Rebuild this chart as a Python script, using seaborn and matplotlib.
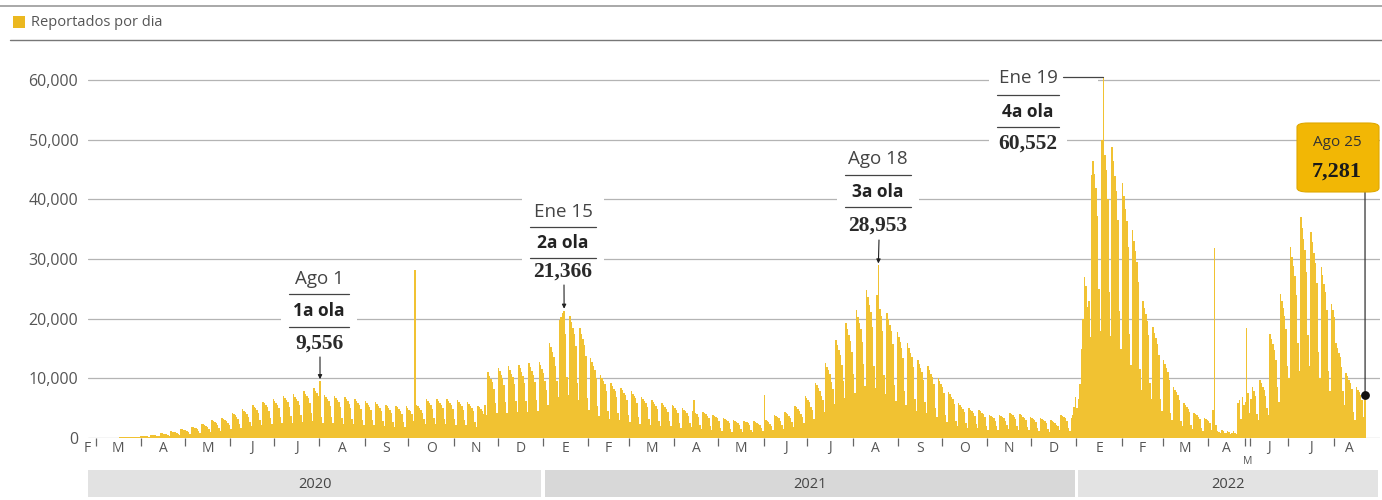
import matplotlib
matplotlib.use('Agg')
import matplotlib.pyplot as plt
import matplotlib.transforms as mtransforms
from matplotlib.patches import Rectangle, FancyBboxPatch
from matplotlib.lines import Line2D
import seaborn as sns
import pandas as pd

# Casos reportados por dia, en miles
feb20 = [0.0, 0.0, 0.01]
mar20 = [0.0, 0.0, 0.0, 0.0, 0.0, 0.0, 0.0, 0.0, 0.0, 0.0, 0.0, 0.0, 0.0, 0.0,
         0.0, 0.0, 0.1, 0.1, 0.1, 0.1, 0.1, 0.1, 0.1, 0.2, 0.2, 0.2, 0.2, 0.2,
         0.2, 0.1, 0.4]
apr20 = [0.33, 0.32, 0.3, 0.26, 0.28, 0.19, 0.55, 0.52, 0.5, 0.47, 0.41, 0.4, 0.28, 0.8,
         0.76, 0.72, 0.68, 0.6, 0.55, 0.39, 1.1, 1.05, 0.99, 0.94, 0.83, 0.75, 0.53, 1.5,
         1.43, 1.35]
may20 = [1.28, 1.13, 0.95, 0.67, 1.9, 1.8, 1.71, 1.62, 1.43, 1.2, 0.84, 2.4, 2.28, 2.16,
         2.04, 1.8, 1.5, 1.05, 3.0, 2.85, 2.7, 2.55, 2.25, 1.7, 1.19, 3.4, 3.23, 3.06,
         2.89, 2.55, 2.1]
jun20 = [1.47, 4.2, 3.99, 3.78, 3.57, 3.15, 2.4, 1.68, 4.8, 4.56, 4.32, 4.08, 3.6, 2.75,
         1.93, 5.5, 5.23, 4.95, 4.68, 4.13, 3.05, 2.14, 6.1, 5.8, 5.49, 5.19, 4.58, 3.3,
         2.31, 6.6]
jul20 = [6.27, 5.94, 5.61, 4.95, 3.5, 2.45, 7.0, 6.65, 6.3, 5.95, 5.25, 3.65, 2.56, 7.3,
         6.94, 6.57, 6.21, 5.48, 3.9, 2.73, 7.8, 7.41, 7.02, 6.63, 5.85, 4.15, 2.9, 8.3,
         7.89, 7.47, 7.06]
aug20 = [9.556, 3.6, 2.52, 7.2, 6.84, 6.48, 6.12, 5.4, 3.5, 2.45, 7.0, 6.65, 6.3, 5.95,
         5.25, 3.4, 2.38, 6.8, 6.46, 6.12, 5.78, 5.1, 3.25, 2.28, 6.5, 6.18, 5.85, 5.53,
         4.88, 3.1, 2.17]
sep20 = [6.2, 5.89, 5.58, 5.27, 4.65, 3.0, 2.1, 6.0, 5.7, 5.4, 5.1, 4.5, 2.8, 1.96,
         5.6, 5.32, 5.04, 4.76, 4.2, 2.7, 1.89, 5.4, 5.13, 4.86, 4.59, 4.05, 2.65, 1.86,
         5.3, 5.04]
oct20 = [4.77, 4.51, 3.98, 2.8, 28.1, 5.6, 5.32, 5.04, 4.76, 4.2, 3.25, 2.28, 6.5, 6.18,
         5.85, 5.53, 4.88, 3.3, 2.31, 6.6, 6.27, 5.94, 5.61, 4.95, 3.25, 2.28, 6.5, 6.18,
         5.85, 5.53, 4.88]
nov20 = [3.15, 2.2, 6.3, 5.99, 5.67, 5.36, 4.73, 3.0, 2.1, 6.0, 5.7, 5.4, 5.1, 4.5,
         2.7, 1.89, 5.4, 5.13, 4.86, 4.59, 4.05, 5.5, 3.85, 11.0, 10.45, 9.9, 9.35, 8.25,
         5.9, 4.13]
dec20 = [11.8, 11.21, 10.62, 10.03, 8.85, 6.0, 4.2, 12.0, 11.4, 10.8, 10.2, 9.0, 6.15, 4.31,
         12.3, 11.69, 11.07, 10.46, 9.23, 6.25, 4.38, 12.5, 11.88, 11.25, 10.63, 9.38, 6.4, 4.48,
         12.8, 12.16, 11.52]
jan21 = [10.88, 9.6, 8.0, 5.6, 16.0, 15.2, 14.4, 13.6, 12.0, 9.5, 6.9, 19.8, 20.3, 20.9,
         21.366, 17.5, 10.25, 7.18, 20.5, 19.48, 18.45, 17.43, 15.38, 9.2, 6.44, 18.4, 17.48, 16.56,
         15.64, 13.8, 6.7]
feb21 = [4.69, 13.4, 12.73, 12.06, 11.39, 10.05, 5.3, 3.71, 10.6, 10.07, 9.54, 9.01, 7.95, 4.6,
         3.22, 9.2, 8.74, 8.28, 7.82, 6.9, 4.2, 2.94, 8.4, 7.98, 7.56, 7.14, 6.3, 3.9]
mar21 = [2.73, 7.8, 7.41, 7.02, 6.63, 5.85, 3.45, 2.42, 6.9, 6.56, 6.21, 5.87, 5.18, 3.2,
         2.24, 6.4, 6.08, 5.76, 5.44, 4.8, 2.9, 2.03, 5.8, 5.51, 5.22, 4.93, 4.35, 2.8,
         1.96, 5.6, 5.32]
apr21 = [5.04, 4.76, 4.2, 2.5, 1.75, 5.0, 4.75, 4.5, 4.25, 3.75, 2.5, 1.8, 4.6, 6.4,
         4.2, 4.0, 3.5, 2.2, 1.54, 4.4, 4.18, 3.96, 3.74, 3.3, 1.95, 1.37, 3.9, 3.71,
         3.51, 3.32]
may21 = [2.93, 1.7, 1.19, 3.4, 3.23, 3.06, 2.89, 2.55, 1.5, 1.05, 3.0, 2.85, 2.7, 2.55,
         2.25, 1.45, 1.02, 2.9, 2.76, 2.61, 2.47, 2.18, 1.4, 0.98, 2.8, 2.66, 2.52, 2.38,
         2.1, 1.6, 1.12]
jun21 = [7.2, 3.04, 2.88, 2.72, 2.4, 1.95, 1.37, 3.9, 3.71, 3.51, 3.32, 2.93, 2.2, 1.54,
         4.4, 4.18, 3.96, 3.74, 3.3, 2.7, 1.89, 5.4, 5.13, 4.86, 4.59, 4.05, 3.5, 2.45,
         7.0, 6.65]
jul21 = [6.3, 5.95, 5.25, 4.65, 3.26, 9.3, 8.84, 8.37, 7.91, 6.98, 6.3, 4.41, 12.6, 11.97,
         11.34, 10.71, 9.45, 8.2, 5.74, 16.4, 15.58, 14.76, 13.94, 12.3, 9.6, 6.72, 19.2, 18.24,
         17.28, 16.32, 14.4]
aug21 = [10.7, 7.49, 21.4, 20.33, 19.26, 18.19, 16.05, 12.4, 8.68, 24.8, 23.56, 22.32, 21.08, 18.6,
         12.0, 8.4, 24.0, 28.953, 21.6, 20.4, 18.0, 10.5, 7.35, 21.0, 19.95, 18.9, 17.85, 15.75,
         8.9, 6.23, 17.8]
sep21 = [16.91, 16.02, 15.13, 13.35, 7.95, 5.57, 15.9, 15.11, 14.31, 13.52, 11.93, 6.5, 4.55, 13.0,
         12.35, 11.7, 11.05, 9.75, 6.0, 4.2, 12.0, 11.4, 10.8, 10.2, 9.0, 5.0, 3.5, 10.0,
         9.5, 9.0]
oct21 = [8.5, 7.5, 3.85, 2.7, 7.7, 7.32, 6.93, 6.55, 5.78, 2.9, 2.03, 5.8, 5.51, 5.22,
         4.93, 4.35, 2.5, 1.75, 5.0, 4.75, 4.5, 4.25, 3.75, 2.35, 1.65, 4.7, 4.47, 4.23,
         4.0, 3.53, 1.95]
nov21 = [1.37, 3.9, 3.71, 3.51, 3.32, 2.93, 1.95, 1.37, 3.9, 3.71, 3.51, 3.32, 2.93, 2.1,
         1.47, 4.2, 3.99, 3.78, 3.57, 3.15, 2.0, 1.4, 4.0, 3.8, 3.6, 3.4, 3.0, 1.8,
         1.26, 3.6]
dec21 = [3.42, 3.24, 3.06, 2.7, 1.7, 1.19, 3.4, 3.23, 3.06, 2.89, 2.55, 1.5, 1.05, 3.0,
         2.85, 2.7, 2.55, 2.25, 1.95, 1.37, 3.9, 3.71, 3.51, 3.32, 2.93, 1.7, 1.2, 3.3,
         3.8, 5.2, 6.9]
jan22 = [5.0, 6.5, 9.0, 15.0, 20.0, 27.0, 25.5, 22.0, 23.0, 17.0, 44.0, 46.5, 44.2, 41.9,
         37.2, 25.0, 18.0, 50.0, 60.552, 47.5, 45.0, 40.0, 24.4, 17.1, 48.8, 46.36, 43.92, 41.48,
         36.6, 21.35, 14.95]
feb22 = [42.7, 40.57, 38.43, 36.3, 32.03, 17.4, 12.18, 34.8, 33.06, 31.32, 29.58, 26.1, 11.5, 8.05,
         23.0, 21.85, 20.7, 19.55, 17.25, 9.3, 6.51, 18.6, 17.67, 16.74, 15.81, 13.95, 6.5, 4.55]
mar22 = [13.0, 12.35, 11.7, 11.05, 9.75, 4.25, 2.98, 8.5, 8.08, 7.65, 7.23, 6.38, 2.9, 2.03,
         5.8, 5.51, 5.22, 4.93, 4.35, 2.1, 1.47, 4.2, 3.99, 3.78, 3.57, 3.15, 1.65, 1.16,
         3.3, 3.14, 2.97]
apr22 = [2.8, 2.5, 1.4, 4.7, 31.8, 2.2, 1.2, 1.0, 0.9, 1.3, 1.1, 0.8, 0.9, 1.2,
         1.0, 0.7, 0.9, 1.1, 0.8, 0.6, 5.8, 6.4, 3.2, 6.8, 5.5]
may22 = [6.0, 18.4, 7.5, 4.2]
jun22 = [6.5, 8.5, 7.8, 7.0, 4.0, 3.0, 9.7, 9.2, 8.6, 8.0, 7.0, 5.0, 3.8, 17.5,
         16.6, 15.8, 14.8, 13.0, 8.5, 6.0, 24.2, 23.0, 21.8, 20.5, 18.2, 12.0]
jul22 = [10.0, 32.0, 30.4, 28.8, 27.2, 24.0, 16.0, 11.2, 37.0, 35.2, 33.3, 31.5, 27.8, 17.3,
         12.1, 34.5, 32.8, 31.0, 29.3, 25.9, 14.4, 10.0, 28.7, 27.3, 25.8, 24.4, 21.5, 11.3,
         7.9, 22.5, 21.4]
aug22 = [20.3, 15.9, 15.1, 14.3, 13.5, 11.9, 7.9, 5.5, 10.9, 10.4, 9.8, 9.3, 8.2, 4.3,
         3.0, 8.5, 8.1, 7.7, 7.2, 6.4, 3.5, 7.281]

meses_datos = [feb20, mar20, apr20, may20, jun20, jul20, aug20, sep20, oct20, nov20, dec20,
               jan21, feb21, mar21, apr21, may21, jun21, jul21, aug21, sep21, oct21, nov21, dec21,
               jan22, feb22, mar22, apr22, may22, jun22, jul22, aug22]
meses = ['F', 'M', 'A', 'M', 'J', 'J', 'A', 'S', 'O', 'N', 'D',
         'E', 'F', 'M', 'A', 'M', 'J', 'J', 'A', 'S', 'O', 'N', 'D',
         'E', 'F', 'M', 'A', 'M', 'J', 'J', 'A']
anios = ['2020', '2021', '2022']
anio_primer_mes = [0, 11, 23]  # indice del primer mes de cada anio

# picos: (mes, dia, fecha, ola, valor)
picos = [(6, 1, 'Ago 1', '1a ola', '9,556'),
         (11, 15, 'Ene 15', '2a ola', '21,366'),
         (18, 18, 'Ago 18', '3a ola', '28,953'),
         (23, 19, 'Ene 19', '4a ola', '60,552')]
ultimo_fecha = 'Ago 25'
ultimo_valor = '7,281'

W, H = 1382, 500
AMARILLO = '#f1c232'


def fx(px):
    return px / W


def fy(py):
    return 1 - py / H


valores = []
inicio = []
for m in meses_datos:
    inicio.append(len(valores))
    valores += m
n = len(valores)
df = pd.DataFrame({'dia': list(range(n)), 'casos': [v * 1000 for v in valores]})

sns.set_style('white')
plt.rcParams['font.family'] = ['Open Sans', 'DejaVu Sans']

fig = plt.figure(figsize=(W / 100, H / 100), dpi=100)
ax = fig.add_axes([fx(88), fy(438), (1380 - 88) / W, (438 - 50) / H])

sns.barplot(data=df, x='dia', y='casos', color=AMARILLO, saturation=1, width=1.0,
            linewidth=0, errorbar=None, ax=ax, zorder=2)

ax.set_xlim(-2.74, 881.2)
ax.set_ylim(0, 65030)
ax.set_yticks(range(0, 60001, 10000))
ax.set_yticklabels([f'{v:,}' for v in range(0, 60001, 10000)], color='#555555', fontsize=11.5)
ax.yaxis.grid(True, color='#b4b4b4', linewidth=0.9, zorder=0)
ax.set_axisbelow(True)
for s in ax.spines.values():
    s.set_visible(False)
ax.tick_params(axis='y', length=0, pad=7)
ax.set_xlabel('')
ax.set_ylabel('')

# marcas entre meses
fronteras = [i - 0.5 for i in inicio[1:]]
ax.set_xticks(fronteras)
ax.set_xticklabels([])
ax.tick_params(axis='x', bottom=True, direction='out', length=6, width=0.9,
               color='#666666', pad=0)

bl = mtransforms.blended_transform_factory(ax.transData, fig.transFigure)
for k, letra in enumerate(meses):
    a = inicio[k]
    b = inicio[k + 1] if k + 1 < len(inicio) else n
    cx = (a + b - 1) / 2
    if k == 0:
        ax.text(-3.5, fy(448), letra, transform=bl, ha='center', va='center', fontsize=10, color='#555555')
    elif b - a < 8:
        ax.text(cx, fy(461), letra, transform=bl, ha='center', va='center', fontsize=7.5, color='#555555')
    else:
        ax.text(cx, fy(448), letra, transform=bl, ha='center', va='center', fontsize=10, color='#555555')

# bandas de anios
colores_banda = ['#e2e2e2', '#d8d8d8', '#e3e3e3']
for k, anio in enumerate(anios):
    a = inicio[anio_primer_mes[k]] - 0.5
    b = inicio[anio_primer_mes[k + 1]] - 0.5 if k + 1 < len(anios) else 881.2
    if k == 0:
        a = -2.74
    x0, x1 = a + (1.3 if k > 0 else 0), b - 1.3
    ax.add_patch(Rectangle((x0, fy(497)), x1 - x0, (497 - 470) / H, transform=bl,
                           facecolor=colores_banda[k], edgecolor='none', clip_on=False))
    ax.text((x0 + x1) / 2, fy(484), anio, transform=bl, ha='center', va='center',
            fontsize=10.5, color='#444444')

# encabezado y leyenda
fig.add_artist(Line2D([fx(0), fx(W)], [fy(6), fy(6)], transform=fig.transFigure, color='#999999', lw=1.2))
fig.add_artist(Line2D([fx(10), fx(W)], [fy(40), fy(40)], transform=fig.transFigure, color='#777777', lw=1))
fig.add_artist(Rectangle((fx(13), fy(28)), 12 / W, 12 / H, transform=fig.transFigure,
                         facecolor='#ebb820', edgecolor='none'))
fig.text(fx(31), fy(22), 'Reportados por dia', ha='left', va='center', fontsize=10.5, color='#555555')

# anotaciones de las olas
pos_picos = [
    # cx, fecha_y, l1_y, ola_y, l2_y, num_y, flecha_y, medio ancho
    (319, 279, 294, 311, 327, 344, 357, 30),
    (563, 212, 227, 243, 258, 272, 285, 33),
    (878, 159, 175, 192, 207, 226, 240, 33),
    (1028, 78, 95, 112, 127, 144, None, 31),
]
a_fig = ax.transData + fig.transFigure.inverted()
for (mes, dia, fecha, ola, valor), (cx, yf, yl1, yo, yl2, yn, ya, hw) in zip(picos, pos_picos):
    idx = inicio[mes] + dia - 1
    top = yn + 10 if ya is not None else yn + 12
    fig.add_artist(Rectangle((fx(cx - hw - 8), fy(top)), (2 * hw + 16) / W, (top - yf + 14) / H,
                             transform=fig.transFigure, facecolor='white', edgecolor='none', zorder=1))
    fig.text(fx(cx), fy(yf), fecha, ha='center', va='center', fontsize=13.5, color='#444444', zorder=3)
    fig.add_artist(Line2D([fx(cx - hw), fx(cx + hw)], [fy(yl1), fy(yl1)], transform=fig.transFigure,
                          color='#444444', lw=0.9, zorder=3))
    fig.text(fx(cx), fy(yo), ola, ha='center', va='center', fontsize=12.5, fontweight='bold',
             color='#222222', zorder=3)
    fig.add_artist(Line2D([fx(cx - hw), fx(cx + hw)], [fy(yl2), fy(yl2)], transform=fig.transFigure,
                          color='#444444', lw=0.9, zorder=3))
    fig.text(fx(cx), fy(yn), valor, ha='center', va='center', fontsize=15.5, fontweight='bold',
             family='Liberation Serif', color='#2a2a2a', zorder=3)
    if ya is not None:
        ax.annotate('', xy=(idx, valores[idx] * 1000 + 300), xycoords='data',
                    xytext=(fx(cx + 1), fy(ya)), textcoords='figure fraction',
                    arrowprops=dict(arrowstyle='-|>', color='#222222', lw=0.8,
                                    mutation_scale=6, shrinkA=0, shrinkB=0))
    else:
        # conector horizontal hasta la punta del pico mas alto
        px_fin, py_fin = a_fig.transform((idx, valores[idx] * 1000))
        fig.add_artist(Rectangle((fx(1058), fy(88)), 40 / W, 23 / H, transform=fig.transFigure,
                                 facecolor='white', edgecolor='none', zorder=1))
        fig.add_artist(Line2D([fx(1063), px_fin], [py_fin, py_fin], transform=fig.transFigure,
                              color='#444444', lw=0.9, zorder=3))

# ultimo dato
ult = n - 1
caja = FancyBboxPatch((fx(1297), fy(192)), 82 / W, 69 / H, boxstyle='round,pad=0,rounding_size=0.008',
                      transform=fig.transFigure, facecolor='#f2b705', edgecolor='#e0a800', lw=0.8, zorder=2)
fig.add_artist(caja)
fig.text(fx(1337), fy(142), ultimo_fecha, ha='center', va='center', fontsize=11, color='#333333', zorder=3)
fig.text(fx(1337), fy(172), ultimo_valor, ha='center', va='center', fontsize=16, fontweight='bold',
         family='Liberation Serif', color='#1a1a1a', zorder=3)
ax.annotate('', xy=(ult, valores[ult] * 1000), xycoords='data',
            xytext=(fx(1365), fy(192)), textcoords='figure fraction',
            arrowprops=dict(arrowstyle='-', color='#333333', lw=0.9, shrinkA=0, shrinkB=0))
ax.scatter([ult], [valores[ult] * 1000], s=28, color='#111111', zorder=5, clip_on=False)

plt.savefig('out.png', dpi=100)
plt.close()
